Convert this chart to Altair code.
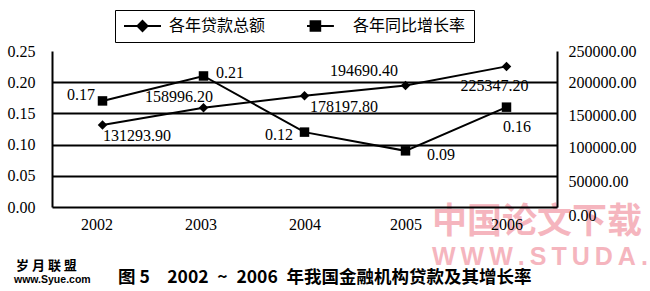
import altair as alt
import pandas as pd

# ---------------- data ----------------
years = ["2002", "2003", "2004", "2005", "2006"]
loans = [131293.90, 158996.20, 178197.80, 194690.40, 225347.20]
growth = [0.17, 0.21, 0.12, 0.09, 0.16]
series_names = ["各年贷款总额", "各年同比增长率"]
left_ticks = [0.00, 0.05, 0.10, 0.15, 0.20, 0.25]
right_ticks = [0, 50000, 100000, 150000, 200000, 250000]
caption = "图 5\u30002002\u2002~\u20022006\u2002年我国金融机构贷款及其增长率"
mark_cn = "中国论文下载"
mark_en = "W\u2009W\u2009W\u2009.\u2009S\u2009T\u2009U\u2009D\u2009A\u2009."
site_cn = "岁 月 联 盟"
site_en = "www.Syue.com"

# label placement styles (align, dx, dy) for each year
loan_label_style = [("left", 0.5, 11), ("right", 9.5, -11), ("left", 5.5, 11),
                    ("right", -7.5, -14.5), ("center", -12, 19.5)]
growth_label_style = [("right", -7.5, -6), ("left", 12.5, -3), ("right", -11.5, 3),
                      ("left", 21.5, 4), ("center", 10.5, 20)]

loan_df = pd.DataFrame({"year": years, "value": loans, "series": series_names[0]})
growth_df = pd.DataFrame({"year": years, "value": growth, "series": series_names[1]})

NUM_FONT = "Liberation Serif"
CJK_FONT = "Noto Sans CJK SC"
PINK = "#f5b5be"

x_enc = alt.X(
    "year:O", title=None, scale=alt.Scale(domain=years),
    axis=alt.Axis(labelAngle=0, labelFont=NUM_FONT, labelFontSize=16, labelColor="black",
                  labelPadding=9, ticks=False, domainColor="black", domainWidth=2, grid=False,
                  zindex=1,
                  labelOffset={"condition": [{"test": "datum.value == '2002'", "value": -6},
                                             {"test": "datum.value == '2003'", "value": -3}],
                               "value": 0}),
)


# legend symbols: line segment with a solid marker (concentric outlines)
def diamond(cx, r):
    return f"M{cx},-{r}L{cx + r},0L{cx},{r}L{cx - r},0Z"


def square(cx, r):
    return f"M{cx - r},-{r}H{cx + r}V{r}H{cx - r}Z"


legend_paths = [
    "M-1,0H1" + diamond(0, 0.27) + diamond(0, 0.17) + diamond(0, 0.07),
    # second entry drawn shifted left, leaving a wider gap before its label
    "M-1.6,0H0.4" + square(-0.6, 0.26) + square(-0.6, 0.16) + square(-0.6, 0.06),
]

legend = alt.Legend(
    title=None, orient="none", legendX=63, legendY=-41, direction="horizontal",
    labelFont=CJK_FONT, labelFontSize=16, labelColor="black", labelOffset=7,
    columnPadding=41, padding=8, strokeColor="black",
    symbolSize=1369, clipHeight=16, symbolStrokeWidth=2,
    symbolStrokeColor="black",
)

y_left = alt.Y(
    "value:Q", title=None, scale=alt.Scale(domain=[0, 0.25], nice=False, zero=True),
    axis=alt.Axis(orient="left", values=left_ticks, format=".2f", labelFont=NUM_FONT,
                  labelFontSize=16, labelColor="black", labelPadding=17, ticks=False,
                  domainColor="black", domainWidth=2, grid=True, gridColor="black", gridWidth=2,
                  gridOpacity={"condition": {"test": "datum.value <= 0.001 || datum.value >= 0.249",
                                             "value": 0}, "value": 1}),
)
y_right = alt.Y(
    "value:Q", title=None, scale=alt.Scale(domain=[0, 250000], nice=False, zero=True),
    axis=alt.Axis(orient="right", values=right_ticks, format=".2f", labelFont=NUM_FONT,
                  labelFontSize=16, labelColor="black", labelPadding=11, labelAlign="left",
                  ticks=False, domainColor="black", domainWidth=2, grid=False, zindex=1,
                  labelOffset={"condition": [{"test": "datum.value < 25000", "value": 8},
                                             {"test": "datum.value < 75000", "value": 6},
                                             {"test": "datum.value < 125000", "value": 3},
                                             {"test": "datum.value < 175000", "value": 2}],
                               "value": 0}),
)


def series_layer(df, y_enc, styles, shape):
    base = alt.Chart(df)
    line = base.mark_line(color="black", strokeWidth=2).encode(x=x_enc, y=y_enc)
    pts = base.mark_point(filled=True, size=90, opacity=1, color="black", shape=shape).encode(
        x=x_enc, y=y_enc)
    texts = []
    for yr, (al, dx, dy) in zip(years, styles):
        texts.append(
            base.transform_filter(alt.datum.year == yr)
            .mark_text(align=al, dx=dx, dy=dy, baseline="middle", font=NUM_FONT,
                       fontSize=16, color="black")
            .encode(x=x_enc, y=y_enc, text=alt.Text("value:Q", format=".2f"))
        )
    return alt.layer(line, pts, *texts)


def free_text(txt, x, y, size, color="black", font=CJK_FONT, weight="normal", align="left"):
    return alt.Chart(pd.DataFrame({"t": [txt]})).mark_text(
        align=align, baseline="middle", font=font, fontSize=size, fontWeight=weight,
        color=color).encode(x=alt.value(x), y=alt.value(y), text="t:N")


# legend carrier: no rows drawn, explicit domain gives the legend entries
legend_layer = alt.Chart(pd.concat([loan_df, growth_df])).transform_filter("false").mark_point(
    filled=False, color="black", strokeWidth=2, opacity=1
).encode(
    shape=alt.Shape("series:N", scale=alt.Scale(domain=series_names, range=legend_paths),
                    legend=legend)
)

wm_cn = free_text(mark_cn, 380, 171, 35, color=PINK, weight="bold")
wm_en = free_text(mark_en, 380, 206, 25, color=PINK, font="Liberation Sans", weight="bold")
site1 = free_text(site_cn, -36, 215, 13, weight="bold")
site2 = free_text(site_en, -38, 229, 10.5, font="Liberation Sans", weight="bold")
cap = free_text(caption, 66, 227, 17.5, weight="bold")

growth_layer = series_layer(growth_df, y_left, growth_label_style, "square")
loan_layer = series_layer(loan_df, y_right, loan_label_style, "diamond")

chart = alt.layer(wm_cn, wm_en, site1, site2, cap, legend_layer, growth_layer, loan_layer).resolve_scale(
    y="independent"
).properties(
    width=505, height=156,
    autosize=alt.AutoSizeParams(type="none"),
    padding={"left": 52, "top": 51, "right": 93, "bottom": 84},
    background="white",
).configure_view(stroke=None)

chart.save("out.html", embed_options={"renderer": "svg", "actions": False})
